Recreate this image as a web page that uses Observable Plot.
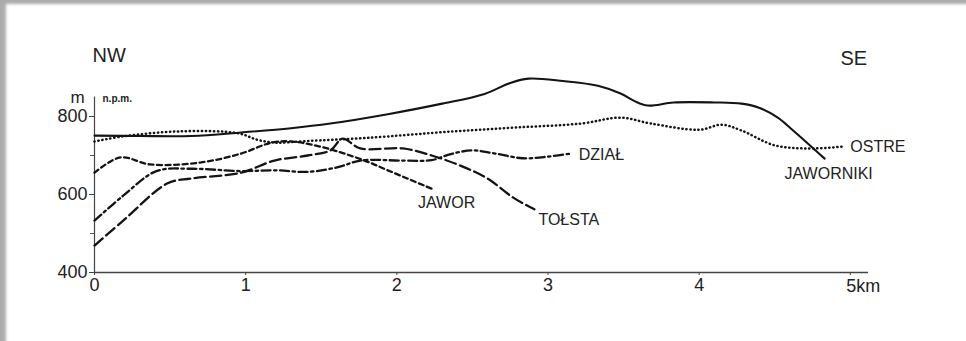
<!DOCTYPE html>
<html>
<head>
<meta charset="utf-8">
<script src="https://cdn.jsdelivr.net/npm/d3@7"></script>
<script src="https://cdn.jsdelivr.net/npm/@observablehq/plot@0.6"></script>
<style>
  html, body { margin: 0; padding: 0; background: #fff; }
  #wrap { position: relative; width: 966px; height: 341px; overflow: hidden; }
  #frame { position: absolute; left: 0; top: 0; width: 966px; height: 341px; pointer-events: none;
           box-shadow: inset 7px 5px 3px -1px rgba(0,0,0,0.33); }
  svg { display: block; }
</style>
</head>
<body>
<div id="wrap"><div id="frame"></div></div>
<script>
// Profile data: distance (km) and elevation (m n.p.m.)
const jawornikiKm = [0, 0.3, 0.64, 0.97, 1.3, 1.56, 1.94, 2.3, 2.58, 2.75, 2.87, 3.1, 3.33, 3.48, 3.57, 3.66, 3.83, 4.1, 4.28, 4.4, 4.52, 4.61, 4.83];
const jawornikiM  = [751, 750, 750, 759, 770, 782, 806, 833, 858, 886, 897, 891, 879, 859, 840, 828, 836, 836, 833, 822, 797, 768, 692];

const ostreKm = [0, 0.19, 0.57, 0.95, 1.08, 1.2, 1.4, 1.8, 2.38, 2.8, 3.22, 3.48, 3.68, 4.0, 4.15, 4.28, 4.5, 4.72, 4.96];
const ostreM  = [736, 749, 762, 757, 740, 733, 737, 745, 762, 772, 782, 797, 782, 766, 779, 764, 726, 718, 723];

const jaworKm = [0, 0.17, 0.37, 0.7, 0.97, 1.17, 1.3, 1.5, 1.78, 1.94, 2.23];
const jaworM  = [656, 695, 677, 682, 705, 733, 736, 722, 688, 662, 615];

const dzialKm = [0, 0.19, 0.41, 0.64, 0.97, 1.2, 1.41, 1.61, 1.76, 2.04, 2.23, 2.35, 2.5, 2.65, 2.83, 3.0, 3.15];
const dzialM  = [533, 597, 660, 666, 660, 662, 658, 670, 687, 687, 688, 703, 713, 705, 693, 697, 705];

const tolstaKm = [0, 0.19, 0.48, 0.64, 0.97, 1.19, 1.41, 1.56, 1.64, 1.76, 2.04, 2.23, 2.42, 2.6, 2.77, 2.91];
const tolstaM  = [469, 533, 628, 641, 656, 687, 700, 713, 743, 718, 718, 700, 674, 641, 592, 562];

const yTicks = [400, 600, 800];
const yMinorTicks = [500, 700];
const xTicks = [0, 1, 2, 3, 4];
const xLastTick = [5];

const rows = (name, km, m) => km.map((k, i) => ({name, km: k, m: m[i]}));
const jaworniki = rows("JAWORNIKI", jawornikiKm, jawornikiM);
const ostre = rows("OSTRE", ostreKm, ostreM);
const jawor = rows("JAWOR", jaworKm, jaworM);
const dzial = rows("DZIAŁ", dzialKm, dzialM);
const tolsta = rows("TOŁSTA", tolstaKm, tolstaM);
const last = a => [a[a.length - 1]];

const ink = "#141414";
const font = "Liberation Sans, Arial, sans-serif";
const curve = "catmull-rom";
const labelStyle = {x: "km", y: "m", text: "name", fill: "#222", fontSize: 16, fontFamily: font, letterSpacing: "1px"};
const noteStyle = {text: d => d, fill: "#222", lineAnchor: "middle"};

const chart = Plot.plot({
  width: 966,
  height: 341,
  marginLeft: 94,
  marginRight: 98,
  marginTop: 77,
  marginBottom: 69,
  style: {fontFamily: font, background: "transparent", color: ink},
  x: {domain: [0, 5.12]},
  y: {domain: [400, 900]},
  marks: [
    // axes
    Plot.ruleY([400], {stroke: "#444", strokeWidth: 1.4}),
    Plot.ruleX([0], {y1: 400, y2: 850, stroke: "#444", strokeWidth: 1.2}),
    Plot.axisY(yTicks, {anchor: "left", tickSize: 5, tickPadding: 2, fontSize: 18, label: null, stroke: "#444", fill: "#222", tickFormat: d3.format("d")}),
    Plot.axisY(yMinorTicks, {anchor: "left", tickSize: 4, tickFormat: () => "", label: null, stroke: "#555"}),
    Plot.axisX(xTicks, {anchor: "bottom", tickSize: 3, tickPadding: 3, fontSize: 18, label: null, stroke: "#444", fill: "#222", tickFormat: d3.format("d")}),
    Plot.axisX(xLastTick, {anchor: "bottom", tickSize: 3, tickFormat: () => "", label: null, stroke: "#444"}),
    Plot.text(xLastTick, {x: d => d, y: 400, text: d => d + "km", textAnchor: "start", lineAnchor: "middle", dx: -4, dy: 14, fontSize: 18, fill: "#222"}),
    // axis annotations
    Plot.text(["m"], {...noteStyle, frameAnchor: "top-left", dx: -24, dy: 20, fontSize: 17}),
    Plot.text(["n.p.m."], {...noteStyle, frameAnchor: "top-left", dx: 8, dy: 21, fontSize: 10, fontWeight: "bold", textAnchor: "start"}),
    Plot.text(["NW"], {...noteStyle, frameAnchor: "top-left", dx: -2, dy: -22, fontSize: 20, textAnchor: "start"}),
    Plot.text(["SE"], {...noteStyle, frameAnchor: "top-right", dx: -28, dy: -19, fontSize: 20, textAnchor: "start"}),
    // profiles
    Plot.line(ostre, {x: "km", y: "m", stroke: ink, strokeWidth: 2.5, strokeDasharray: "0.3,3.7", strokeLinecap: "round", curve}),
    Plot.line(jawor, {x: "km", y: "m", stroke: ink, strokeWidth: 2.3, strokeDasharray: "5,3.5", curve}),
    Plot.line(dzial, {x: "km", y: "m", stroke: ink, strokeWidth: 2.3, strokeDasharray: "9,3.5,2.5,3.5", curve}),
    Plot.line(tolsta, {x: "km", y: "m", stroke: ink, strokeWidth: 2.3, strokeDasharray: "11,4.5", curve}),
    Plot.line(jaworniki, {x: "km", y: "m", stroke: ink, strokeWidth: 2.1, curve}),
    // labels at the end of each profile
    Plot.text(last(jawor), {...labelStyle, dx: 15, dy: 14}),
    Plot.text(last(tolsta), {...labelStyle, textAnchor: "start", dx: 4, dy: 11}),
    Plot.text(last(dzial), {...labelStyle, textAnchor: "start", dx: 8, dy: 1}),
    Plot.text(last(ostre), {...labelStyle, textAnchor: "start", dx: 6, dy: 0}),
    Plot.text(last(jaworniki), {...labelStyle, dx: 4, dy: 15})
  ]
});
document.getElementById("wrap").insertBefore(chart, document.getElementById("frame"));
</script>
</body>
</html>
